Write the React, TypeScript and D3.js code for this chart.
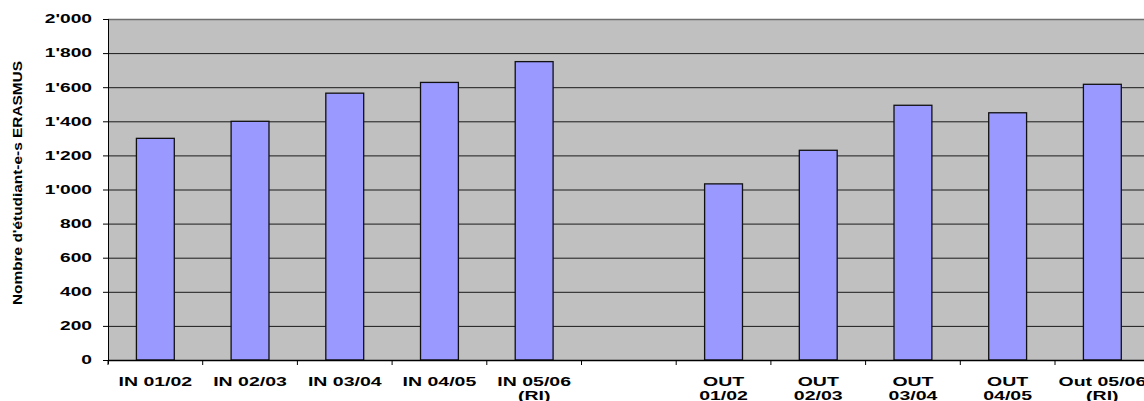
// @ts-nocheck
import React, { useRef, useEffect } from "react";
import * as d3 from "d3";

// categories ("" = empty slot between IN and OUT), "\n" marks the label line break
const categories = [
  "IN 01/02",
  "IN 02/03",
  "IN 03/04",
  "IN 04/05",
  "IN 05/06\n(RI)",
  "",
  "OUT\n01/02",
  "OUT\n02/03",
  "OUT\n03/04",
  "OUT\n04/05",
  "Out 05/06\n(RI)",
];
const students = [1300, 1400, 1565, 1628, 1750, null, 1033, 1230, 1494, 1450, 1617];
const yTicks = [0, 200, 400, 600, 800, 1000, 1200, 1400, 1600, 1800, 2000];
const yTitle = "Nombre d'étudiant-e-s ERASMUS";

const ErasmusChart = ({ width = 1144, height = 401 }) => {
  const svgRef = useRef(null);

  useEffect(() => {
    const svg = d3.select(svgRef.current);
    svg.selectAll("*").remove();

    const plotLeft = 108,
      plotTop = 19,
      plotBottom = 360,
      step = 94.7;
    const plotRight = plotLeft + step * categories.length;
    const font = "'Liberation Sans', Arial, sans-serif";

    const x = d3
      .scaleBand()
      .domain(categories.map((d, i) => i))
      .range([plotLeft, plotRight])
      .padding(0);

    const y = d3.scaleLinear().domain([0, 2000]).range([plotBottom, plotTop]);

    // plot background
    svg
      .append("rect")
      .attr("x", plotLeft)
      .attr("y", plotTop)
      .attr("width", plotRight - plotLeft)
      .attr("height", plotBottom - plotTop)
      .attr("fill", "#c0c0c0");

    // gridlines
    svg
      .append("g")
      .selectAll("line")
      .data(yTicks.filter((d) => d > 0))
      .join("line")
      .attr("x1", plotLeft)
      .attr("x2", plotRight)
      .attr("y1", (d) => y(d) + 0.5)
      .attr("y2", (d) => y(d) + 0.5)
      .attr("stroke", (d) => (d === 2000 ? "#6e6e6e" : "#1a1a1a"))
      .attr("stroke-width", (d) => (d === 2000 ? 1.5 : 1));

    // bars
    const barW = x.bandwidth() * 0.4;
    svg
      .append("g")
      .selectAll("rect")
      .data(students.map((v, i) => ({ v, i })).filter((d) => d.v != null))
      .join("rect")
      .attr("x", (d) => x(d.i) + (x.bandwidth() - barW) / 2)
      .attr("y", (d) => y(d.v))
      .attr("width", barW)
      .attr("height", (d) => y(0) - y(d.v))
      .attr("fill", "#9999ff")
      .attr("stroke", "#111")
      .attr("stroke-width", 1.3);

    // y axis
    const yAxis = svg.append("g");
    yAxis
      .append("line")
      .attr("x1", plotLeft + 0.5)
      .attr("x2", plotLeft + 0.5)
      .attr("y1", plotTop)
      .attr("y2", plotBottom + 4)
      .attr("stroke", "#000");
    yAxis
      .selectAll("line.tick")
      .data(yTicks)
      .join("line")
      .attr("class", "tick")
      .attr("x1", plotLeft - 5)
      .attr("x2", plotLeft)
      .attr("y1", (d) => y(d) + 0.5)
      .attr("y2", (d) => y(d) + 0.5)
      .attr("stroke", "#000");
    yAxis
      .selectAll("text")
      .data(yTicks)
      .join("text")
      .attr("transform", (d) => `translate(92,${y(d) + 4.3}) scale(1.6,1)`)
      .attr("text-anchor", "end")
      .attr("font-family", font)
      .attr("font-weight", "bold")
      .attr("font-size", 12)
      .attr("fill", "#000")
      .text((d) => d3.format(",")(d).replace(/,/g, "'"));

    // x axis
    const xAxis = svg.append("g");
    xAxis
      .append("line")
      .attr("x1", plotLeft)
      .attr("x2", plotRight)
      .attr("y1", plotBottom + 0.5)
      .attr("y2", plotBottom + 0.5)
      .attr("stroke", "#000")
      .attr("stroke-width", 1.3);
    xAxis
      .selectAll("line.tick")
      .data(d3.range(categories.length + 1))
      .join("line")
      .attr("class", "tick")
      .attr("x1", (i) => plotLeft + i * x.step())
      .attr("x2", (i) => plotLeft + i * x.step())
      .attr("y1", plotBottom)
      .attr("y2", plotBottom + 5)
      .attr("stroke", "#000");
    const labels = xAxis
      .selectAll("g.label")
      .data(categories.map((c, i) => ({ c, i })))
      .join("g")
      .attr("class", "label")
      .attr("transform", (d) => `translate(${x(d.i) + x.bandwidth() / 2},385.5) scale(1.5,1)`);
    labels
      .selectAll("text")
      .data((d) => d.c.split("\n").filter((s) => s))
      .join("text")
      .attr("y", (s, j) => j * 14.7)
      .attr("text-anchor", "middle")
      .attr("font-family", font)
      .attr("font-weight", "bold")
      .attr("font-size", 13)
      .attr("fill", "#000")
      .text((s) => s);

    // y title
    svg
      .append("text")
      .attr("transform", `translate(22,305) rotate(-90)`)
      .attr("font-family", font)
      .attr("font-weight", "bold")
      .attr("font-size", 12)
      .attr("textLength", 244)
      .attr("lengthAdjust", "spacingAndGlyphs")
      .attr("fill", "#000")
      .text(yTitle);
  }, [width, height]);

  return (
    <svg
      ref={svgRef}
      width={width}
      height={height}
      style={{ position: "absolute", left: 0, top: 0, background: "#fff" }}
    ></svg>
  );
};

export default function App() {
  return <ErasmusChart />;
}
